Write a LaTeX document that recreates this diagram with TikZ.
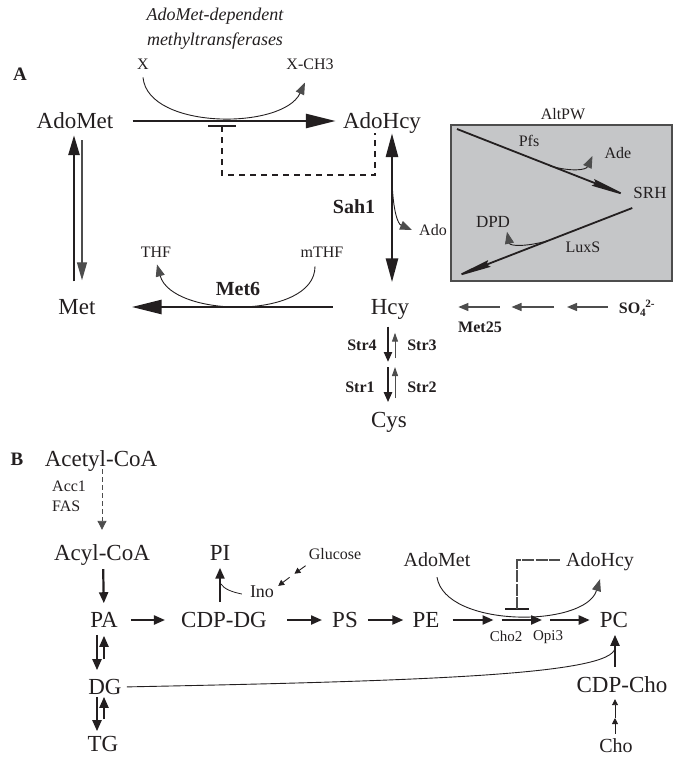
\documentclass[tikz,border=0pt]{standalone}
\usepackage{fontspec}
\setmainfont{Liberation Serif}
\usetikzlibrary{arrows.meta}
\definecolor{ink}{HTML}{231F20}
\definecolor{arrgray}{HTML}{4D4D4D}
\definecolor{boxgray}{HTML}{C5C6C8}
\tikzset{
  metab/.style={font=\fontsize{23}{23}\selectfont,inner sep=0pt,text depth=0pt},
  medium/.style={font=\fontsize{20}{20}\selectfont,inner sep=0pt,text depth=0pt},
  cofac/.style={font=\fontsize{16}{16}\selectfont,inner sep=0pt,text depth=0pt},
  tinylab/.style={font=\fontsize{15}{15}\selectfont,inner sep=0pt,text depth=0pt},
  enzyme/.style={font=\bfseries\fontsize{16}{16}\selectfont,inner sep=0pt,text depth=0pt},
  enzymebig/.style={font=\bfseries\fontsize{20}{20}\selectfont,inner sep=0pt,text depth=0pt},
  panel/.style={font=\bfseries\fontsize{19}{19}\selectfont,inner sep=0pt,text depth=0pt},
  bigflux/.style={line width=2.8pt,-{Triangle[length=30pt,width=14pt]}},
  thinflux/.style={line width=0.9pt,-{Triangle[length=12pt,width=9pt,color=arrgray]}},
  grayflux/.style={arrgray,line width=1.3pt,-{Triangle[length=10pt,width=8pt]}},
  strdown/.style={line width=2.2pt,-{Triangle[length=10pt,width=8pt]}},
  strup/.style={arrgray,line width=1pt,-{Triangle[length=9pt,width=6pt]}},
  altflux/.style={line width=1.8pt,-{Stealth[length=40pt,width=7pt,inset=3pt]}},
  lipflux/.style={line width=2.2pt,-{Triangle[length=11pt,width=9pt]}},
  smallflux/.style={line width=0.9pt,-{Triangle[length=6pt,width=6pt]}}
}
\begin{document}
\begin{tikzpicture}[x=1pt,y=-1pt,color=ink]
\useasboundingbox (0,0) rectangle (673,758);
% panel A
\node[panel] (labA) at (20,74) {A};
\node[align=center,inner sep=0pt,font=\itshape\fontsize{18}{25}\selectfont] (mtase) at (215,29) {AdoMet-dependent\\methyltransferases};
\node[cofac] (x) at (143,64) {X};
\node[cofac] (xch3) at (310,64) {X-CH3};
\node[metab] (adomet) at (75,121) {AdoMet};
\node[metab] (adohcy) at (382,121) {AdoHcy};
\node[metab] (met) at (77,307) {Met};
\node[metab] (hcy) at (390,307) {Hcy};
\node[metab] (cys) at (389,420) {Cys};
\node[enzymebig] (met6) at (238,289) {Met6};
\node[enzymebig] (sah1) at (354,207) {Sah1};
\node[cofac] (thf) at (156,252) {THF};
\node[cofac] (mthf) at (322,252) {mTHF};
\node[cofac] (ado) at (433,230) {Ado};
\node[enzyme] (str4) at (362,345) {Str4};
\node[enzyme] (str3) at (422,345) {Str3};
\node[enzyme] (str1) at (360,387) {Str1};
\node[enzyme] (str2) at (422,387) {Str2};
\node[enzyme] (so4) at (637,307) {SO\textsubscript{4}\kern-1pt\textsuperscript{2-}};
\node[enzyme] (met25) at (480,327) {Met25};
\coordinate (bar1) at (222,126);
\coordinate (sahout) at (392,180);
\coordinate (hcycys) at (390,365);
\coordinate (m1) at (561,307);
\coordinate (m2) at (505.5,307);

\draw[bigflux,shorten <=19pt,shorten >=7pt] (adomet.east) -- (adohcy.west);
\draw[thinflux] ([yshift=-8pt]x.south) .. controls (148,130) and (283,130) .. ([xshift=-5pt,yshift=-13pt]xch3.south);
\draw[line width=2.2pt] ([xshift=-14pt]bar1) -- ([xshift=14pt]bar1);
\draw[line width=2.2pt,dash pattern=on 6pt off 5pt] (bar1) -- ++(0,49) -| ([xshift=-7pt,yshift=-4pt]adohcy.south);
\draw[line width=2.6pt,-{Triangle[length=20pt,width=11pt]},shorten <=18pt,shorten >=6pt] ([xshift=-3pt]met.north) -- ([xshift=-1pt]adomet.south);
\draw[arrgray,line width=1.4pt,-{Triangle[length=18pt,width=10pt]},shorten <=11pt,shorten >=19pt] ([xshift=7pt]adomet.south) -- ([xshift=5pt]met.north);
\draw[bigflux,shorten <=38pt,shorten >=36pt] (hcy.west) -- (met.east);
\draw[thinflux] ([xshift=-7pt,yshift=-9pt]mthf.south) .. controls (315,320) and (172,318) .. ([xshift=1pt,yshift=-7pt]thf.south);
\draw[line width=2.8pt,{Triangle[length=24pt,width=12pt]}-{Triangle[length=24pt,width=12pt]},shorten <=4pt,shorten >=17pt] ([xshift=10pt]adohcy.south) -- ([xshift=2pt]hcy.north);
\draw[thinflux] (sahout) .. controls (393,212) and (398,224) .. ([xshift=-7pt]ado.west);
\draw[strdown,shorten <=12pt,shorten >=3pt] ([xshift=-2pt]hcy.south) -- ([xshift=-2pt]hcycys);
\draw[strup,shorten <=7pt,shorten >=18pt] ([xshift=5pt]hcycys) -- ([xshift=5pt]hcy.south);
\draw[strdown,shorten <=2pt,shorten >=10pt] ([xshift=-2pt]hcycys) -- ([xshift=-1pt]cys.north);
\draw[strup,shorten <=14pt,shorten >=2pt] ([xshift=6pt]cys.north) -- ([xshift=5pt]hcycys);
\draw[grayflux,shorten <=11pt,shorten >=6pt] (so4.west) -- (m1);
\draw[grayflux,shorten <=7pt,shorten >=6pt] (m1) -- (m2);
\draw[grayflux,shorten <=6pt,shorten >=49pt] (m2) -- (hcy.east);

\draw[fill=boxgray,draw=arrgray,line width=1.2pt] (451,125) rectangle (672,281);
\node[cofac] (altpw) at (563,114) {AltPW};
\node[cofac] (pfs) at (529,141) {Pfs};
\node[cofac] (ade) at (618,153) {Ade};
\node[cofac,font=\fontsize{17}{17}\selectfont] (srh) at (650,193) {SRH};
\node[cofac,font=\fontsize{17}{17}\selectfont] (dpd) at (493,222) {DPD};
\node[cofac] (luxs) at (583,247) {LuxS};
\coordinate (altin) at (457,129);
\coordinate (altout) at (452,278);
\coordinate (pfsout) at (550,166);
\coordinate (luxsout) at (547,241);
\draw[altflux] (altin) -- ([xshift=-3pt,yshift=-4pt]srh.west);
\draw[altflux] ([xshift=-1pt,yshift=-15pt]srh.west) -- (altout);
\draw[thinflux] (pfsout) .. controls (572,172) and (586,170) .. ([xshift=-12pt,yshift=-3pt]ade.west);
\draw[thinflux] (luxsout) .. controls (525,247) and (510,246) .. ([xshift=14pt,yshift=-4pt]dpd.south);

% panel B
\node[panel] (labB) at (17,459) {B};
\node[metab] (acetyl) at (101,459) {Acetyl-CoA};
\node[cofac,anchor=west] (acc1) at (52,486) {Acc1};
\node[cofac,anchor=west] (fas) at (52,506) {FAS};
\node[metab] (acyl) at (102,553) {Acyl-CoA};
\node[metab] (pa) at (104,620) {PA};
\node[metab] (cdpdg) at (224,620) {CDP-DG};
\node[metab] (pi) at (220,553) {PI};
\node[font=\fontsize{18}{18}\selectfont,inner sep=0pt,text depth=0pt] (ino) at (262,592) {Ino};
\node[cofac] (glucose) at (335,554) {Glucose};
\node[metab] (ps) at (345,620) {PS};
\node[metab] (pe) at (426,620) {PE};
\node[metab] (pc) at (614,620) {PC};
\node[medium] (adomet2) at (437,560) {AdoMet};
\node[medium] (adohcy2) at (600,560) {AdoHcy};
\node[tinylab] (cho2) at (506,636) {Cho2};
\node[tinylab] (opi3) at (548,636) {Opi3};
\node[metab] (cdpcho) at (622,685) {CDP-Cho};
\node[medium] (cho) at (616,746) {Cho};
\node[metab] (dg) at (105,687) {DG};
\node[metab] (tg) at (103,744) {TG};
\coordinate (g1) at (497.5,620);
\coordinate (g2) at (546,620);
\coordinate (bar2) at (517,609);
\coordinate (inoin) at (221,584);
\coordinate (glumid) at (292,575.5);
\coordinate (chomid) at (615,718);
\coordinate (pcin) at (615,648);

\draw[arrgray,line width=0.9pt,dash pattern=on 5pt off 3pt,-{Triangle[length=9pt,width=9pt]},shorten <=2pt,shorten >=15pt] ([xshift=1pt]acetyl.south) -- (acyl.north);
\draw[lipflux,shorten <=8pt,shorten >=9pt] ([xshift=1pt]acyl.south) -- (pa.north);
\draw[lipflux,shorten <=13pt,shorten >=16pt] (pa.east) -- (cdpdg.west);
\draw[lipflux,shorten <=20pt,shorten >=10pt] (cdpdg.east) -- (ps.west);
\draw[lipflux,shorten <=10pt,shorten >=9pt] (ps.east) -- (pe.west);
\draw[lipflux,shorten <=13pt,shorten >=4pt] (pe.east) -- (g1);
\draw[lipflux,shorten <=4pt,shorten >=4pt] (g1) -- (g2);
\draw[lipflux,shorten <=4pt,shorten >=10pt] (g2) -- (pc.west);
\draw[lipflux,shorten <=10pt,shorten >=7pt] ([xshift=-4pt]cdpdg.north) -- (pi.south);
\draw[line width=0.8pt] ([xshift=-8pt,yshift=-2pt]ino.west) .. controls (232,592) and (224,589) .. (inoin);
\draw[smallflux,shorten <=0pt,shorten >=3pt] ([xshift=-3pt,yshift=-6pt]glucose.south west) -- (glumid);
\draw[smallflux,shorten <=3pt] (glumid) -- ([xshift=4pt]ino.north east);
\draw[thinflux] ([yshift=-10pt]adomet2.south) .. controls (445,628) and (585,628) .. ([yshift=-12pt]adohcy2.south);
\draw[line width=2pt] ([xshift=-12pt]bar2) -- ([xshift=12pt]bar2);
\draw[arrgray,line width=1.2pt,dash pattern=on 12pt off 1.5pt,shorten >=6pt] (bar2) |- (adohcy2.west);
\draw[lipflux,shorten <=10pt,shorten >=7pt] ([xshift=-7pt]cdpcho.north) -- ([xshift=1pt]pc.south);
\draw[smallflux,shorten <=5pt] ([xshift=-1pt]cho.north) -- (chomid);
\draw[smallflux,shorten >=6pt] (chomid) -- ([xshift=-7pt]cdpcho.south);
\draw[line width=0.9pt,shorten <=5pt] (dg.east) .. controls (420,681) and (612,675) .. (pcin);
\draw[lipflux,shorten <=7pt,shorten >=9pt] ([xshift=-7pt]pa.south) -- ([xshift=-8pt]dg.north);
\draw[lipflux,shorten <=20pt,shorten >=8pt] ([xshift=-1pt]dg.north) -- (pa.south);
\draw[lipflux,shorten <=2pt,shorten >=5pt] ([xshift=-8pt]dg.south) -- ([xshift=-6pt]tg.north);
\draw[lipflux,shorten <=17pt,shorten >=2pt] ([xshift=1pt]tg.north) -- ([xshift=-1pt]dg.south);
\end{tikzpicture}
\end{document}
